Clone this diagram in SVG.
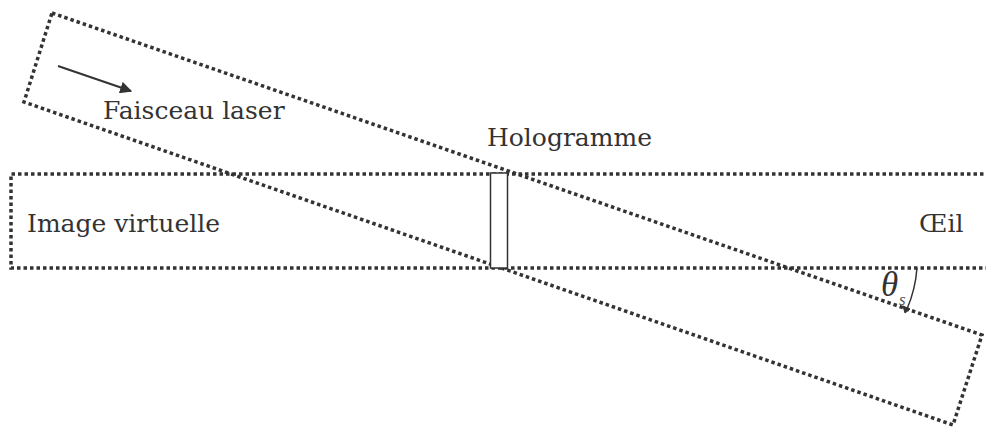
<svg xmlns="http://www.w3.org/2000/svg" width="986" height="429" viewBox="0 0 986 429">
<defs>
<style>
.dot{fill:none;stroke:#333;stroke-width:3.5;stroke-dasharray:3.5 3}
.lbl{font-family:"DejaVu Serif","Liberation Serif",serif;font-size:25px;fill:#333}
</style>
<marker id="ah" viewBox="0 0 10 10" refX="9" refY="5" markerWidth="6" markerHeight="6" orient="auto" markerUnits="strokeWidth">
<path d="M0,0 L10,5 L0,10 Z" fill="#333"/>
</marker>
</defs>
<rect width="986" height="429" fill="#fff"/>
<g id="virtual-image-beam">
<path class="dot" d="M990,174 L11,174 L11,268 L990,268"/>
</g>
<g id="laser-beam">
<path class="dot" d="M52,13 L982,335 L953,425 L24,102 Z"/>
</g>
<g id="hologram">
<rect x="490.5" y="173" width="17" height="95" fill="#fff" stroke="#333" stroke-width="1.5"/>
</g>
<g id="connectors">
<line x1="58" y1="66" x2="131" y2="91" stroke="#333" stroke-width="2" marker-end="url(#ah)"/>
<path d="M917,268 A128,128 0 0 1 907,309" fill="none" stroke="#333" stroke-width="1.5"/>
<path d="M903,306 L905,313 L910,309 Z" fill="#333" stroke="#333" stroke-width="1"/>
</g>
<g id="labels">
<text class="lbl" x="103" y="119">Faisceau laser</text>
<text class="lbl" x="487" y="146">Hologramme</text>
<text class="lbl" x="27" y="232">Image virtuelle</text>
<text class="lbl" x="919" y="232">Œil</text>
<text x="881" y="296" style="font-family:'Liberation Serif',serif;font-style:italic;font-size:35px;fill:#333">θ</text>
<text x="899" y="305" style="font-family:'Liberation Serif',serif;font-style:italic;font-size:17px;fill:#555">s</text>
</g>
</svg>
